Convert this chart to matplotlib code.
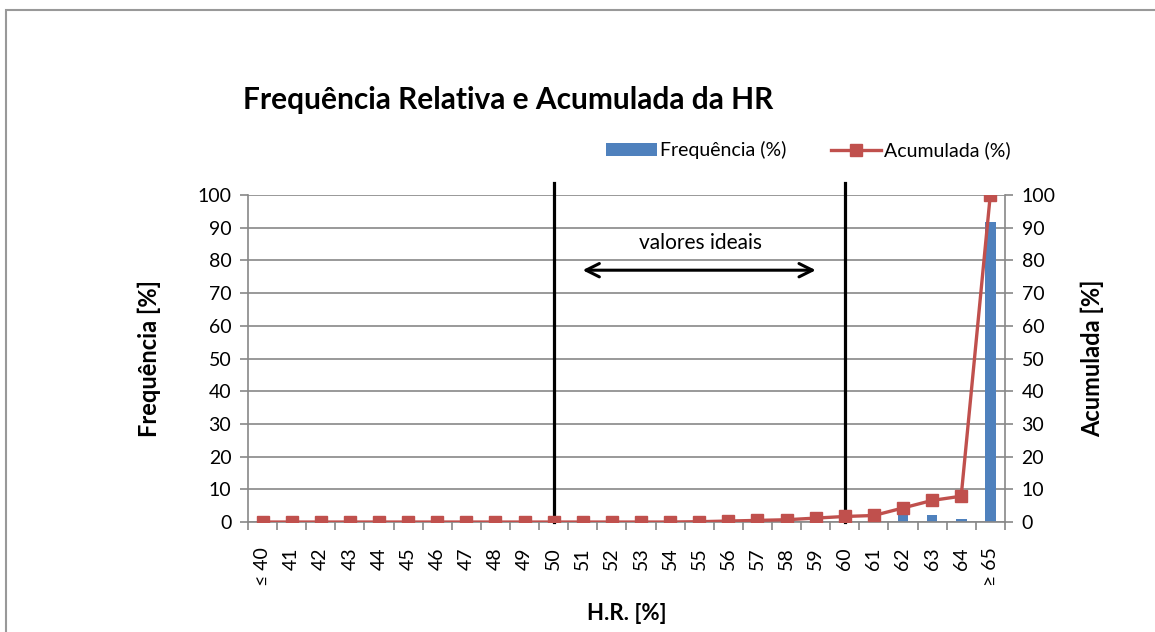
import matplotlib
matplotlib.use('Agg')
import matplotlib.pyplot as plt
import numpy as np
from matplotlib.patches import Rectangle

plt.rcParams['font.family'] = ['Lato', 'DejaVu Sans']

categories = ['≤ 40'] + [str(v) for v in range(41, 65)] + ['≥ 65']
frequencia = [0, 0, 0, 0, 0, 0, 0, 0, 0, 0, 0, 0, 0, 0, 0,
              0.1, 0.2, 0.2, 0.2, 0.4, 0.5, 0.3, 2.3, 2.3, 1.0, 91.7]
acumulada = [0, 0, 0, 0, 0, 0, 0, 0, 0, 0, 0, 0, 0, 0, 0,
             0.1, 0.3, 0.5, 0.7, 1.2, 1.7, 2.0, 4.3, 6.6, 7.9, 100]
limites_ideais = ['50', '60']

BLUE = '#4F81BD'
RED = '#C0504D'
GRID = '#888888'

fig = plt.figure(figsize=(11.55, 6.32), dpi=100)
# moldura do grafico (so o topo e a esquerda ficam visiveis)
fig.patches.append(Rectangle((0.0055, -0.1), 1.2, 1.084, transform=fig.transFigure,
                             fill=False, edgecolor='#999999', linewidth=1.5))

ax = fig.add_axes([0.2147, 0.174, 0.6553, 0.5175])
x = np.arange(len(categories))

bars = ax.bar(x, frequencia, width=0.37, color=BLUE, zorder=2, label='Frequência (%)')
ax.set_xlim(-0.5, len(categories) - 0.5)
ax.set_ylim(0, 100)
ax.set_yticks(range(0, 101, 10))
ax.grid(True, axis='y', color=GRID, linewidth=1.2, zorder=0)
ax.set_axisbelow(True)

ax.set_xticks(x)
ax.set_xticklabels(categories, rotation=90, fontsize=14)
ax.tick_params(axis='x', which='major', length=0, pad=18)
ax.set_xticks(np.arange(-0.5, len(categories), 1), minor=True)
ax.tick_params(axis='x', which='minor', length=6, color=GRID, width=1.2)
ax.tick_params(axis='y', labelsize=14, length=6, color=GRID, width=1.2, pad=6)

for side in ['top', 'right']:
    ax.spines[side].set_visible(False)
for side in ['left', 'bottom']:
    ax.spines[side].set_color(GRID)
    ax.spines[side].set_linewidth(1.2)

ax2 = ax.twinx()
line, = ax2.plot(x, acumulada, color=RED, linewidth=2.4, marker='s', markersize=8,
                 zorder=4, label='Acumulada (%)')
ax2.set_ylim(0, 100)
ax2.set_yticks(range(0, 101, 10))
ax2.tick_params(axis='y', labelsize=14, length=6, color=GRID, width=1.2, pad=6)
for side in ['top', 'left', 'bottom']:
    ax2.spines[side].set_visible(False)
ax2.spines['right'].set_color(GRID)
ax2.spines['right'].set_linewidth(1.2)

# limites dos valores ideais
for lab in limites_ideais:
    xi = categories.index(lab)
    ax2.plot([xi, xi], [0, 103.7], color='black', linewidth=2.3, clip_on=False, zorder=3)

x0 = categories.index(limites_ideais[0])
x1 = categories.index(limites_ideais[1])
ax2.annotate('', xy=(x0 + 0.9, 77), xytext=(x1 - 0.9, 77),
             arrowprops=dict(arrowstyle='<->', color='black', linewidth=2.2,
                             mutation_scale=24))
ax2.text((x0 + x1) / 2 + 0.05, 85.3, 'valores ideais', ha='center', va='center', fontsize=15)

ax.set_ylabel('Frequência [%]', fontsize=17, fontweight='bold', labelpad=26)
ax2.set_ylabel('Acumulada [%]', fontsize=17, fontweight='bold', rotation=90, labelpad=18)
ax.set_xlabel('H.R. [%]', fontsize=16, fontweight='bold', labelpad=12)

fig.text(0.2105, 0.842, 'Frequência Relativa e Acumulada da HR', fontsize=21.5,
         fontweight='bold', ha='left', va='center')

fig.legend(handles=[bars, line], loc='center', bbox_to_anchor=(0.700, 0.762), ncol=2,
           frameon=False, fontsize=14, handlelength=2.6, handletextpad=0.15,
           columnspacing=2.3)

fig.savefig('out.png', dpi=100)
plt.close(fig)
